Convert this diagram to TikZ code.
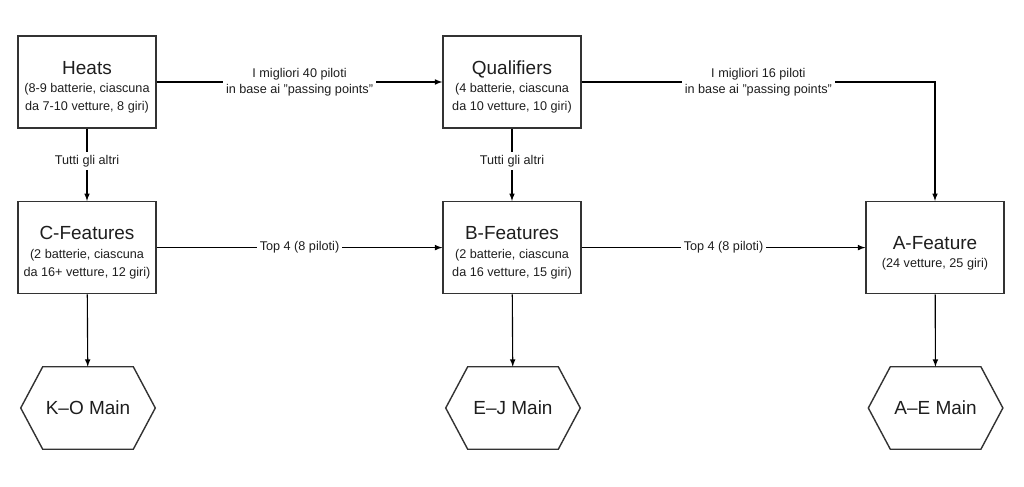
\documentclass[tikz,border=0pt]{standalone}
\usepackage{fontspec}
\setmainfont{Liberation Sans}
\usetikzlibrary{arrows}
\definecolor{boxgray}{RGB}{51,51,51}
\definecolor{txtgray}{RGB}{30,30,30}
\newcommand{\boxtitle}[1]{{\fontsize{13.5}{13}\selectfont\rule{0pt}{17pt}#1}}

\begin{document}
\begin{tikzpicture}[
 box/.style={draw=boxgray,line width=1pt,minimum width=3.45cm,minimum height=2.3cm,align=center,text=txtgray,font=\fontsize{9}{13}\selectfont},
 hex/.style={minimum width=3.35cm,minimum height=2.05cm,text=txtgray,font=\fontsize{13.5}{16}\selectfont},
 lbl/.style={fill=white,align=center,text=txtgray,font=\fontsize{9}{11.3}\selectfont,inner sep=2pt},
 conn/.style={-latex,line width=0.8pt}
]
\useasboundingbox (0,0) rectangle (25.6,12.15);

\node[box] (heats) at (2.175,10.1) {\boxtitle{Heats}\\(8-9 batterie, ciascuna\\da 7-10 vetture, 8 giri)};
\node[box] (quals) at (12.8,10.1) {\boxtitle{Qualifiers}\\(4 batterie, ciascuna\\da 10 vetture, 10 giri)};
\node[box] (cfeat) at (2.175,5.96) {\boxtitle{C-Features}\\(2 batterie, ciascuna\\da 16+ vetture, 12 giri)};
\node[box] (bfeat) at (12.8,5.96) {\boxtitle{B-Features}\\(2 batterie, ciascuna\\da 16 vetture, 15 giri)};
\node[box] (afeat) at (23.375,5.96) {\boxtitle{A-Feature}\\(24 vetture, 25 giri)};

\node[hex] (ko) at (2.2,1.95) {K--O Main};
\node[hex] (ej) at (12.825,1.95) {E--J Main};
\node[hex] (ae) at (23.39,1.95) {A--E Main};

\foreach \h in {ko,ej,ae}
{
\draw[boxgray,line width=1pt] (\h.west) -- ([xshift=0.55cm]\h.north west) -- ([xshift=-0.55cm]\h.north east) -- (\h.east) -- ([xshift=-0.55cm]\h.south east) -- ([xshift=0.55cm]\h.south west) -- cycle;
}

\draw[conn] (heats) -- node[lbl] {I migliori 40 piloti\\in base ai "passing points"} (quals);
\draw[conn] (quals) -| node[lbl,pos=0.25] {I migliori 16 piloti\\in base ai "passing points"} (afeat);
\draw[conn] (heats) -- node[lbl,pos=0.45] {Tutti gli altri} (cfeat);
\draw[conn] (quals) -- node[lbl,pos=0.45] {Tutti gli altri} (bfeat);
\draw[conn] (cfeat) -- node[lbl] {Top 4 (8 piloti)} (bfeat);
\draw[conn] (bfeat) -- node[lbl] {Top 4 (8 piloti)} (afeat);

\draw[conn] (cfeat) -- (ko);
\draw[conn] (bfeat) -- (ej);
\draw[conn] (afeat) -- (ae);

\end{tikzpicture}
\end{document}
